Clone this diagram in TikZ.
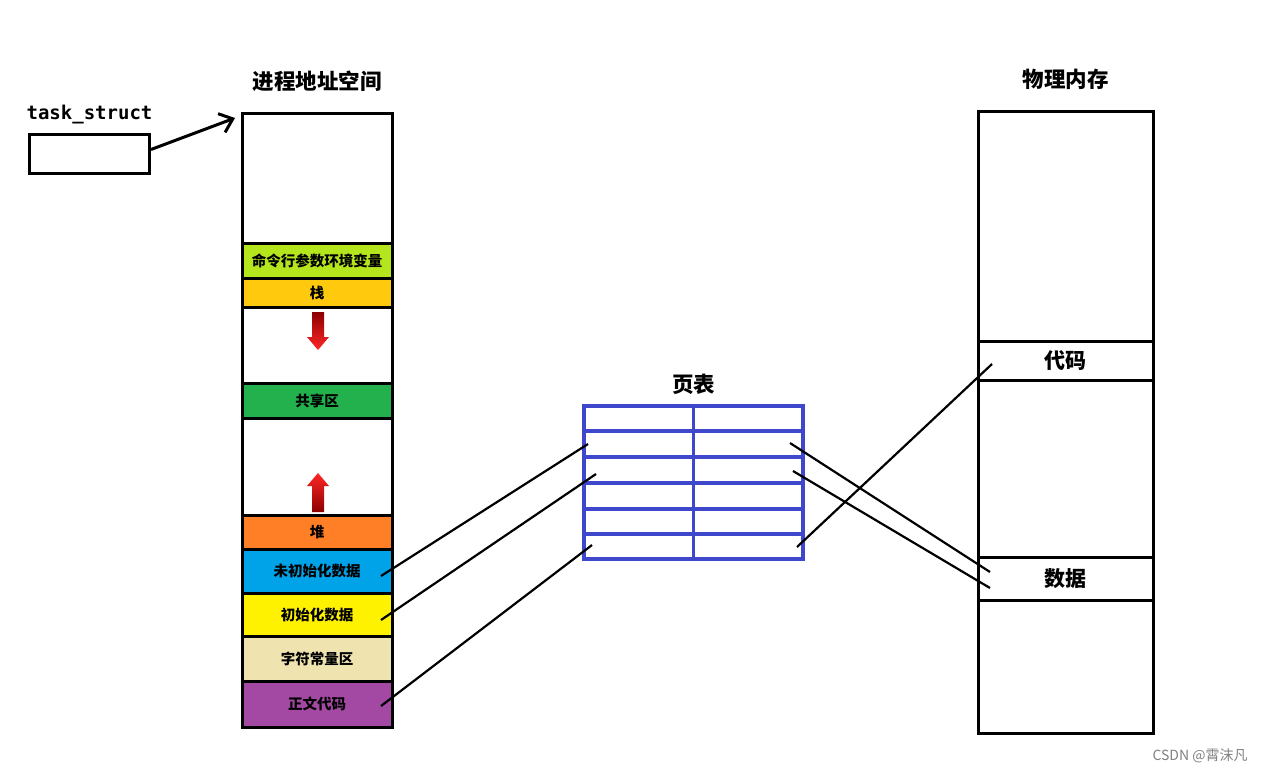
\documentclass[tikz,border=0pt]{standalone}
\usepackage{fontspec}
\usepackage{xcolor}
\usepackage{tikz}
\usetikzlibrary{arrows.meta,positioning,calc}
\newfontfamily\cjkfont{Noto Sans CJK SC}
\newfontfamily\monofont{DejaVu Sans Mono}
\definecolor{segcmd}{RGB}{181,230,29}
\definecolor{segstack}{RGB}{255,201,14}
\definecolor{segshared}{RGB}{34,177,76}
\definecolor{segheap}{RGB}{255,127,39}
\definecolor{segbss}{RGB}{0,162,232}
\definecolor{segdata}{RGB}{255,242,0}
\definecolor{segrodata}{RGB}{239,228,176}
\definecolor{segtext}{RGB}{163,73,164}
\definecolor{ptblue}{RGB}{63,72,204}

\begin{document}
\begin{tikzpicture}[
    x=1pt, y=-1pt,
    seg/.style={rectangle, draw, line width=3pt, minimum width=150pt, inner sep=0pt, outer sep=0pt, font=\cjkfont\bfseries\fontsize{14.5}{14.5}\selectfont},
    mem/.style={seg, minimum width=175pt, font=\cjkfont\bfseries\fontsize{21}{21}\selectfont},
    cell/.style={rectangle, draw=ptblue, line width=3.5pt, minimum width=109.5pt, inner sep=0pt, outer sep=0pt},
    title/.style={inner sep=0pt, font=\cjkfont\bfseries\fontsize{21.5}{21.5}\selectfont},
    link/.style={line width=2.2pt},
    arrow/.style={-{Straight Barb[length=12pt,width=20pt]}, line width=3pt}
]
\useasboundingbox (0,0) rectangle (1265,772);

% Address space
\node[seg, minimum height=130pt, anchor=north west] (as-top) at (242,113) {};
\node[seg, fill=segcmd, minimum height=35pt, below=0pt of as-top] (cmd) {命令行参数环境变量};
\node[seg, fill=segstack, minimum height=29pt, below=0pt of cmd] (stack) {栈};
\node[seg, minimum height=76pt, below=0pt of stack] (gap1) {};
\node[seg, fill=segshared, minimum height=35pt, below=0pt of gap1] (shared) {共享区};
\node[seg, minimum height=97pt, below=0pt of shared] (gap2) {};
\node[seg, fill=segheap, minimum height=34pt, below=0pt of gap2] (heap) {堆};
\node[seg, fill=segbss, minimum height=44pt, below=0pt of heap] (bss) {未初始化数据};
\node[seg, fill=segdata, minimum height=43pt, below=0pt of bss] (data) {初始化数据};
\node[seg, fill=segrodata, minimum height=45pt, below=0pt of data] (rodata) {字符常量区};
\node[seg, fill=segtext, minimum height=46pt, below=0pt of rodata] (text) {正文代码};

% Growth arrows
\shade[top color=red!55!black, bottom color=red!85!white]
    (312,312) -- (324,312) -- (324,337) -- (329,337) -- (318,350) -- (307,337) -- (312,337) -- cycle;
\shade[top color=red!85!white, bottom color=red!55!black]
    (318,473) -- (329,486) -- (324,486) -- (324,512) -- (312,512) -- (312,486) -- (307,486) -- cycle;

% task_struct
\node[rectangle, draw, line width=3pt, minimum width=120pt, minimum height=39pt, anchor=north west] (task) at (28,133) {};

% Page table (row top / height)
\foreach \r/\top/\h in {1/406/25, 2/431/26, 3/457/26, 4/483/26, 5/509/25, 6/534/25} {
  \node[cell, minimum height=\h pt, anchor=north west] (pt-\r-l) at (584,\top) {};
  \node[cell, minimum height=\h pt, anchor=north west] (pt-\r-r) at (693.5,\top) {};
}

% Physical memory
\node[mem, minimum height=230pt, anchor=north west] (pm-top) at (978,111) {};
\node[mem, minimum height=39pt, below=0pt of pm-top] (pm-code) {代码};
\node[mem, minimum height=177pt, below=0pt of pm-code] (pm-gap) {};
\node[mem, minimum height=43pt, below=0pt of pm-gap] (pm-data) {数据};
\node[mem, minimum height=133pt, below=0pt of pm-data] (pm-bottom) {};

% Arrows
\draw[arrow] ([shift={(0,-4.5)}]task.east) -- ([shift={(-7,5)}]as-top.north west);
\draw[link] ([shift={(-11,5)}]bss.east) -- ([shift={(4,0)}]pt-2-l.west);
\draw[link] ([shift={(-11,5.5)}]data.east) -- ([shift={(12,4)}]pt-3-l.west);
\draw[link] ([shift={(-11,2)}]text.east) -- ([shift={(8,-1.5)}]pt-6-l.west);
\draw[link] ([shift={(-13,-1)}]pt-2-r.east) -- ([shift={(12,-6.5)}]pm-data.west);
\draw[link] ([shift={(-10,1)}]pt-3-r.east) -- ([shift={(12,9.5)}]pm-data.west);
\draw[link] ([shift={(-6,0.5)}]pt-6-r.east) -- ([shift={(14,3.5)}]pm-code.west);

% Labels
\node[title, above=21pt of as-top] (as-title) {进程地址空间};
\node[title, above=21pt of pm-top] (pm-title) {物理内存};
\node[title, above=11pt] (pt-title) at (pt-1-l.north east) {页表};
\node[above=9pt of task, inner sep=0pt, font=\monofont\bfseries\fontsize{19}{19}\selectfont] (task-label) {task\_struct};
\node[inner sep=0pt, text=black!50, font=\cjkfont\fontsize{14}{14}\selectfont] (mark) at (1200,756) {CSDN @霄沫凡};
\end{tikzpicture}
\end{document}
